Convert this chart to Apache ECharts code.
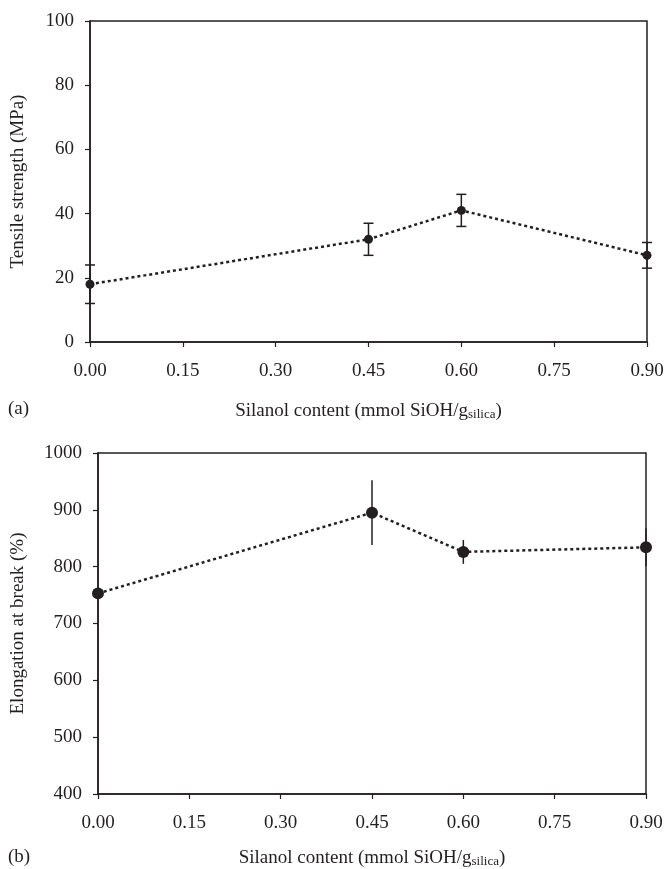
<!DOCTYPE html>
<html>
<head>
<meta charset="utf-8">
<script src="https://cdn.jsdelivr.net/npm/echarts@6/dist/echarts.min.js"></script>
<style>
  html, body { margin: 0; padding: 0; background: #fff; }
  #chart { width: 667px; height: 869px; }
</style>
</head>
<body>
<div id="chart"></div>
<script>
// silanol content, mmol SiOH / g silica
const silanol = [0.00, 0.45, 0.60, 0.90]
// (a) tensile strength, MPa
const tensile = [18, 32, 41, 27]
const tensileErr = [6, 5, 5, 4]
// (b) elongation at break, %
const elongation = [753, 895, 826, 834]
const elongationErr = [8, 57, 21, 33]
const xTicks = ['0.00', '0.15', '0.30', '0.45', '0.60', '0.75', '0.90']

const font = 'Liberation Serif'
const ink = '#231f20'

const errData = (vals, errs) => silanol.map((x, i) => [x, vals[i] - errs[i], vals[i] + errs[i]])

function errorBar(capHalf) {
  return function (params, api) {
    const x = api.value(0)
    const lo = api.coord([x, api.value(1)])
    const hi = api.coord([x, api.value(2)])
    const style = { stroke: ink, lineWidth: 1.5 }
    const kids = [{ type: 'line', shape: { x1: lo[0], y1: lo[1], x2: hi[0], y2: hi[1] }, style }]
    if (capHalf) {
      kids.push({ type: 'line', shape: { x1: lo[0] - capHalf, y1: lo[1], x2: lo[0] + capHalf, y2: lo[1] }, style })
      kids.push({ type: 'line', shape: { x1: hi[0] - capHalf, y1: hi[1], x2: hi[0] + capHalf, y2: hi[1] }, style })
    }
    return { type: 'group', children: kids }
  }
}

const xName = '{a|Silanol content (mmol SiOH/g}{s|silica}{a|)}'
const nameRich = {
  a: { fontFamily: font, fontSize: 19, color: ink, lineHeight: 24, verticalAlign: 'bottom' },
  s: { fontFamily: font, fontSize: 13, color: ink, lineHeight: 14, verticalAlign: 'bottom' }
}

function xAxis(gridIndex, gap) {
  return {
    type: 'value', gridIndex, min: 0, max: 0.9, interval: 0.15,
    name: xName, nameLocation: 'middle', nameGap: gap,
    nameTextStyle: { rich: nameRich },
    axisLine: { lineStyle: { color: ink, width: 1.5 } },
    axisTick: { inside: false, length: 5, lineStyle: { color: ink, width: 1.2 } },
    axisLabel: { formatter: v => xTicks[Math.round(v / 0.15)], fontFamily: font, fontSize: 19, color: ink, margin: 20 },
    splitLine: { show: false }
  }
}

function yAxis(gridIndex, min, max, interval, name, gap) {
  return {
    type: 'value', gridIndex, min, max, interval,
    name, nameLocation: 'middle', nameGap: gap,
    nameTextStyle: { fontFamily: font, fontSize: 19, color: ink },
    axisLine: { show: true, lineStyle: { color: ink, width: 1.5 } },
    axisTick: { show: true, inside: false, length: 5, lineStyle: { color: ink, width: 1.2 } },
    axisLabel: { formatter: v => String(v), fontFamily: font, fontSize: 19, color: ink, margin: 16 },
    splitLine: { show: false }
  }
}

const chart = echarts.init(document.getElementById('chart'))
chart.setOption({
  animation: false,
  backgroundColor: '#fff',
  grid: [
    { left: 90, top: 21, width: 557, height: 321, show: true, borderColor: ink, borderWidth: 1.5 },
    { left: 98, top: 453, width: 548, height: 345, show: true, borderColor: ink, borderWidth: 1.5 }
  ],
  xAxis: [xAxis(0, 55), xAxis(1, 50)],
  yAxis: [
    yAxis(0, 0, 100, 20, 'Tensile strength (MPa)', 62),
    yAxis(1, 400, 1000, 100, 'Elongation at break (%)', 70)
  ],
  graphic: [
    { type: 'text', left: 8, top: 400, style: { text: '(a)', font: '19px ' + font, fill: ink } },
    { type: 'text', left: 8, top: 848, style: { text: '(b)', font: '19px ' + font, fill: ink } }
  ],
  series: [
    {
      type: 'custom', xAxisIndex: 0, yAxisIndex: 0,
      data: errData(tensile, tensileErr), renderItem: errorBar(5), z: 3
    },
    {
      type: 'line', xAxisIndex: 0, yAxisIndex: 0,
      data: silanol.map((x, i) => [x, tensile[i]]),
      symbol: 'circle', symbolSize: 9,
      itemStyle: { color: ink },
      lineStyle: { color: ink, width: 2.5, type: [3, 3] }, z: 4
    },
    {
      type: 'custom', xAxisIndex: 1, yAxisIndex: 1,
      data: errData(elongation, elongationErr), renderItem: errorBar(0), z: 3
    },
    {
      type: 'line', xAxisIndex: 1, yAxisIndex: 1,
      data: silanol.map((x, i) => [x, elongation[i]]),
      symbol: 'circle', symbolSize: 12,
      itemStyle: { color: ink },
      lineStyle: { color: ink, width: 2.5, type: [3, 3] }, z: 4
    }
  ]
})
</script>
</body>
</html>
